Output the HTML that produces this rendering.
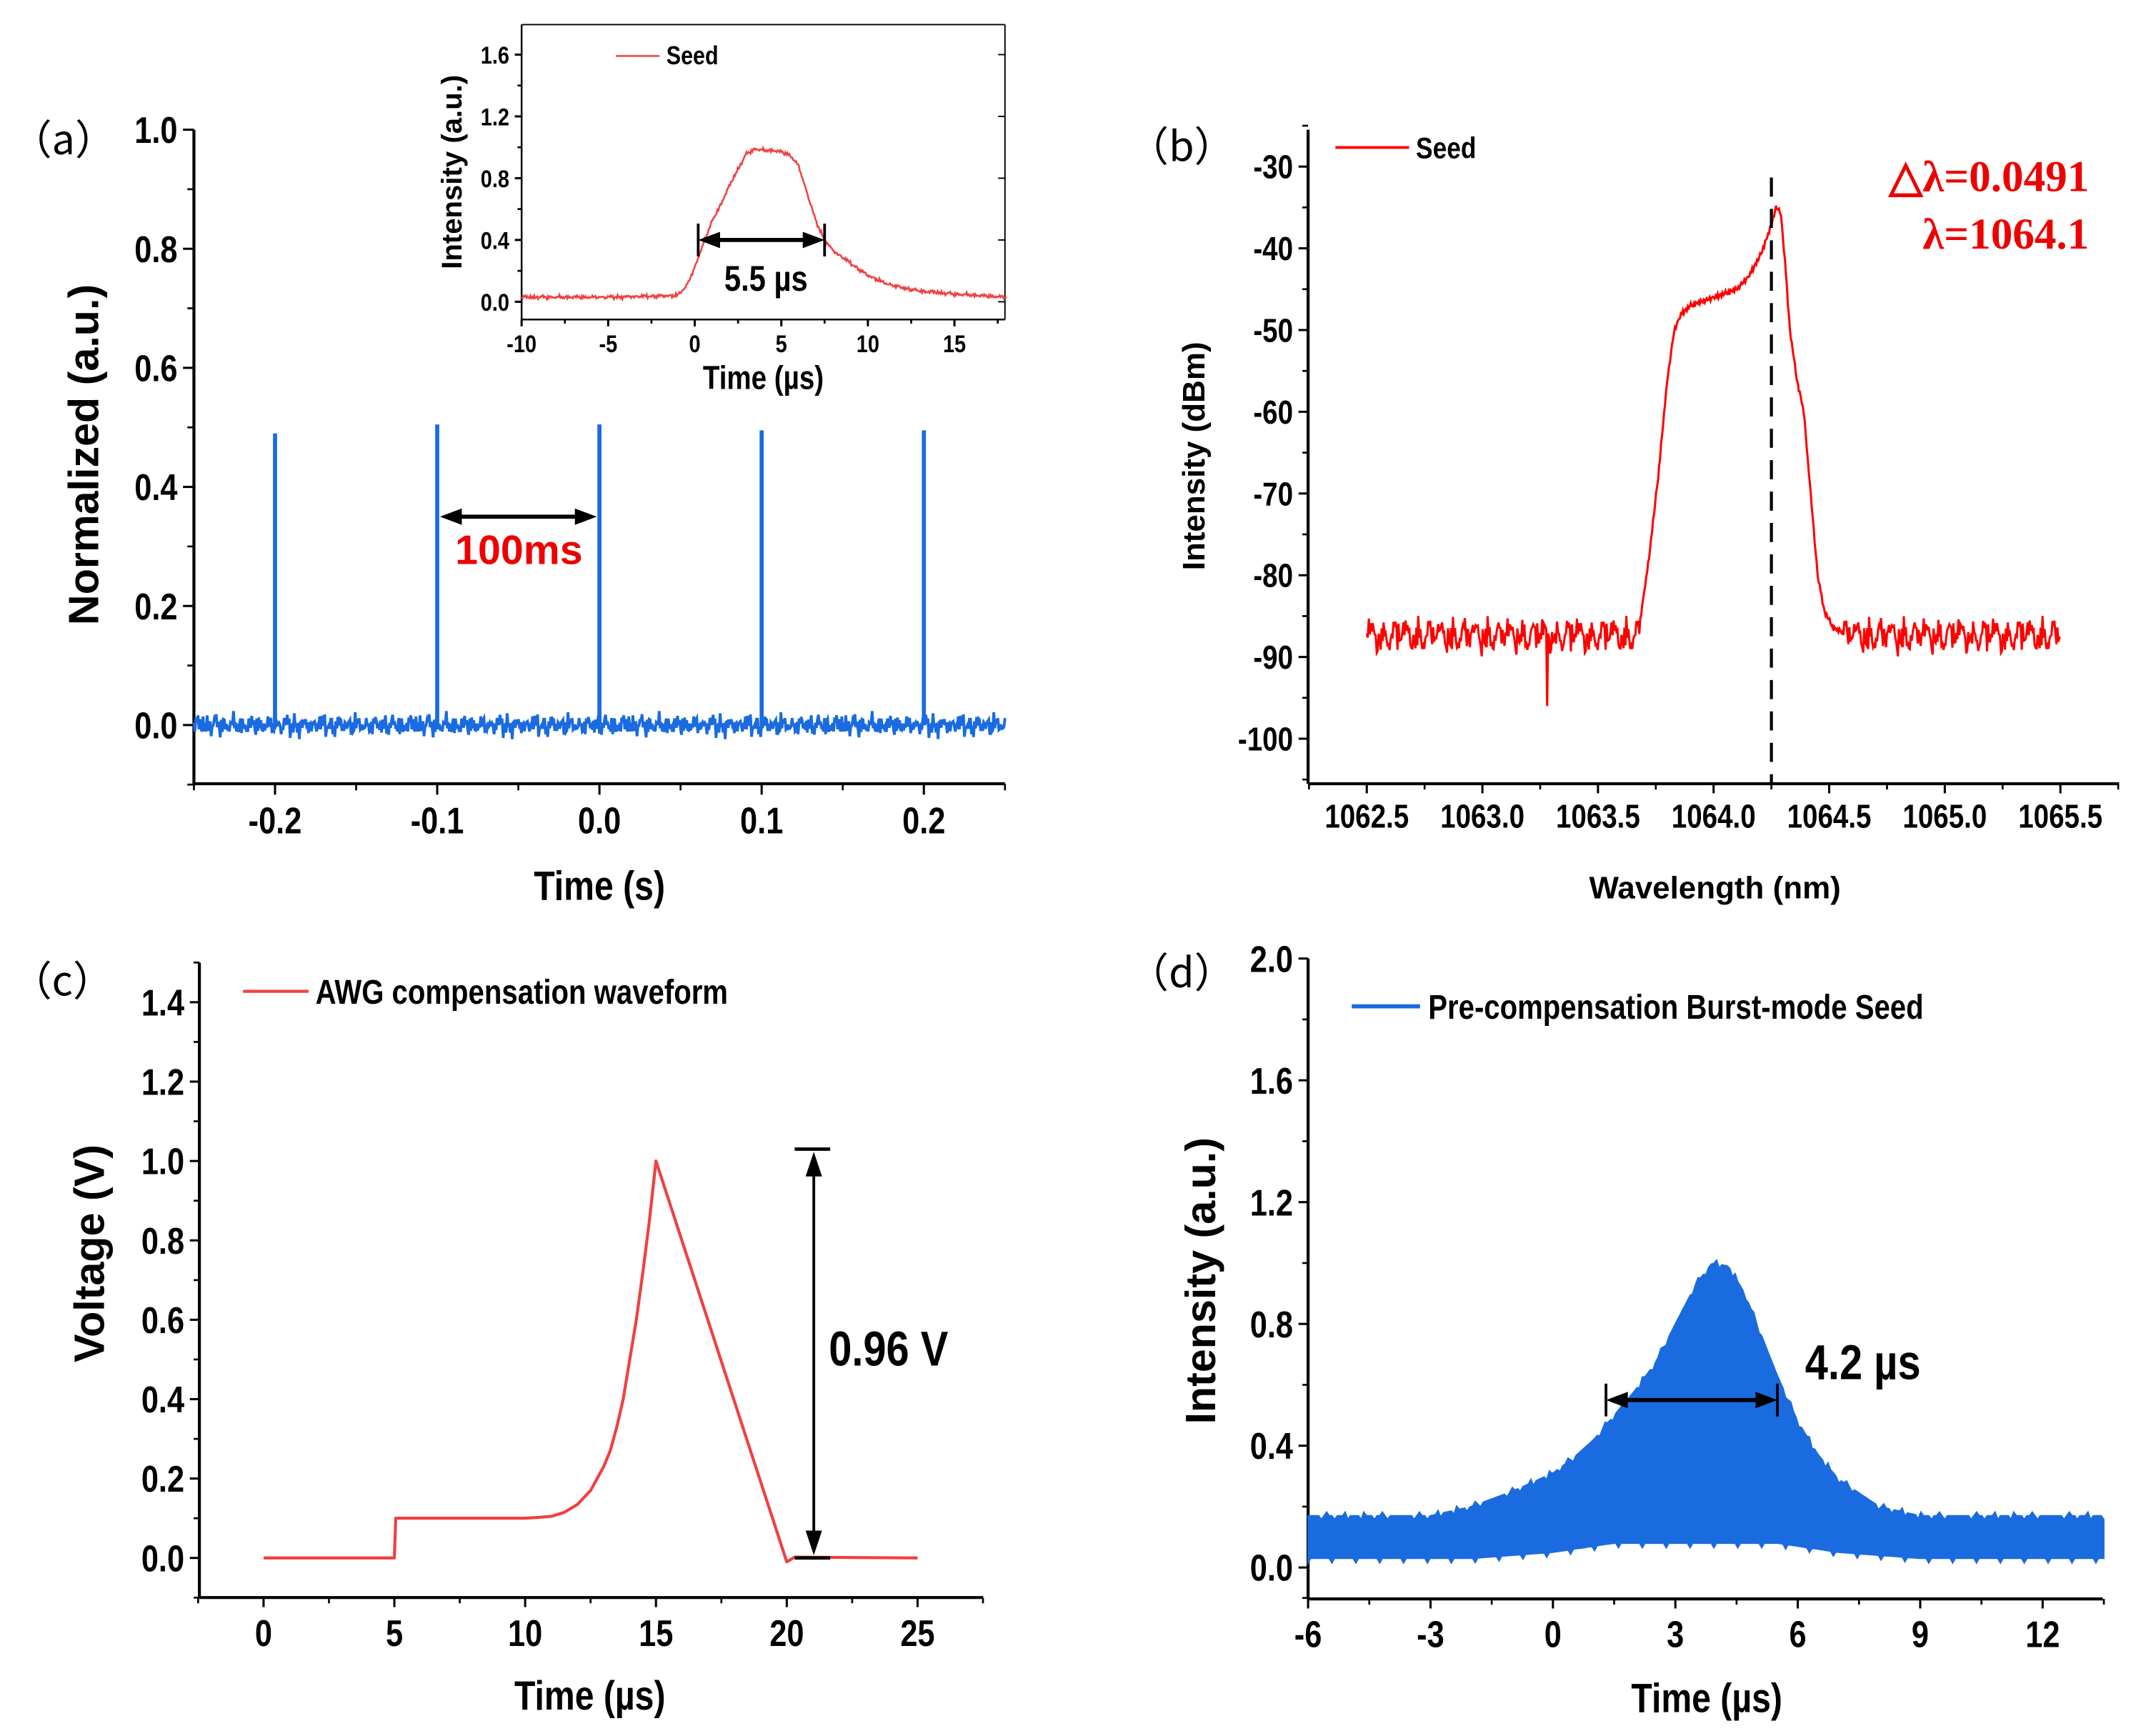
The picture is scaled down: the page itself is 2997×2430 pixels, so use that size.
<!DOCTYPE html>
<html><head><meta charset="utf-8"><style>
html,body{margin:0;padding:0;background:#fff}
svg{display:block}
.n{font-family:"Liberation Sans",sans-serif;font-weight:bold}
.w{font-family:"Liberation Sans",sans-serif;font-weight:bold}
</style></head><body>
<svg id="fig" xmlns="http://www.w3.org/2000/svg" width="2997" height="2430" viewBox="0 0 1568 1271.4">
<rect width="1600" height="1300" fill="#fff"/>
</svg>
<script>
// ---- data ----
const aSpikeT=[-0.2,-0.1,0.0,0.1,0.2];
const aSpikeV=[0.49,0.505,0.505,0.495,0.495];
const noiseA=[0.004,-0.008,0.012,-0.003,0.006,-0.012,0.009,0.001,-0.006,0.014,-0.01,0.003,-0.004,0.008,-0.015,0.005,0.011,-0.007,0.002,-0.011,0.007,-0.002,0.013,-0.009,0.0,0.006,-0.013,0.01,-0.005,0.003];
const seedT=[-10,-5,-1,-0.5,0,0.5,1,1.5,2,2.5,3,3.5,4,4.5,5,5.5,6,6.5,7,7.5,8,9,10,11,12,13,15,18];
const seedV=[0.03,0.03,0.04,0.1,0.22,0.38,0.52,0.63,0.75,0.86,0.96,0.99,0.98,0.98,0.97,0.95,0.88,0.7,0.52,0.4,0.33,0.25,0.17,0.12,0.09,0.07,0.05,0.03];
const specW=[1063.68,1063.72,1063.76,1063.8,1063.83,1063.86,1063.9,1063.95,1064.0,1064.05,1064.1,1064.15,1064.2,1064.24,1064.27,1064.29,1064.31,1064.33,1064.36,1064.39,1064.42,1064.45,1064.48,1064.52,1064.56];
const specV=[-86,-78,-68,-56,-50,-48,-47,-46.5,-46,-45.5,-45,-43.5,-41,-38,-35,-35.5,-42,-50,-56,-60,-70,-80,-84.5,-86.5,-87];
const noiseB=[0,-2,1.5,-1,2.5,-3,0.5,1,-2.5,2,-1.5,0,3,-1,-2,1,-3.5,2,0.5,-1,1.5,-2,2.5,0,-1.5,1,-2.5,0.5,2,-1,-0.5,1.8,-2.8,0.3,1.2];
const awgT=[0,5,5.05,10,10.5,11,11.5,12,12.5,13,13.25,13.5,13.75,14,14.25,14.5,14.75,15,20,20.3,25];
const awgV=[0,0,0.1,0.1,0.102,0.105,0.115,0.135,0.17,0.23,0.27,0.33,0.4,0.5,0.6,0.72,0.85,1.0,-0.01,0.002,0];
const dT=[-6,-3,-2,-1,0,0.5,1,1.5,2,2.5,3,3.5,3.9,4.3,4.7,5,5.5,6,6.5,7,8,9,12,13.5];
const dUp=[0.17,0.17,0.2,0.25,0.31,0.36,0.42,0.5,0.58,0.67,0.8,0.93,1.0,0.99,0.9,0.8,0.63,0.48,0.37,0.29,0.2,0.17,0.17,0.17];
const dLo=[0.03,0.03,0.03,0.04,0.05,0.06,0.07,0.08,0.08,0.08,0.08,0.08,0.08,0.08,0.08,0.08,0.08,0.07,0.06,0.05,0.04,0.03,0.03,0.03];
const aTicks=[-0.2,-0.1,0.0,0.1,0.2], aYTicks=[0,0.2,0.4,0.6,0.8,1.0];
const iTicks=[-10,-5,0,5,10,15], iYTicks=[0,0.4,0.8,1.2,1.6];
const bTicks=[1062.5,1063.0,1063.5,1064.0,1064.5,1065.0,1065.5], bYTicks=[-30,-40,-50,-60,-70,-80,-90,-100];
const cTicks=[0,5,10,15,20,25], cYTicks=[0,0.2,0.4,0.6,0.8,1.0,1.2,1.4];
const dTicks=[-6,-3,0,3,6,9,12], dYTicks=[0,0.4,0.8,1.2,1.6,2.0];

const NS='http://www.w3.org/2000/svg', svg=document.getElementById('fig');
function el(tag,attrs,parent,text){const e=document.createElementNS(NS,tag);for(const k in attrs)e.setAttribute(k,attrs[k]);if(text!==undefined)e.textContent=text;(parent||svg).appendChild(e);return e;}
function lin(d0,d1,r0,r1){return v=>r0+(v-d0)*(r1-r0)/(d1-d0);}
function interp(xs,ys,x){if(x<=xs[0])return ys[0];for(let i=1;i<xs.length;i++){if(x<=xs[i]){const t=(x-xs[i-1])/(xs[i]-xs[i-1]);return ys[i-1]+t*(ys[i]-ys[i-1]);}}return ys[ys.length-1];}
function nz(i){return noiseA[i%noiseA.length]+noiseB[(i*3)%noiseB.length]*0.004;}
function ntext(g,x,y,fs,anchor,str,fill){return el('text',{transform:`translate(${x},${y}) scale(0.84,1)`,'text-anchor':anchor,'font-size':fs,class:'n',fill:fill||'#000'},g,str);}

function axes(g,o){
  el('line',{x1:o.x0,y1:o.y0,x2:o.x0,y2:o.y1,stroke:'#000','stroke-width':o.lw||2.2},g);
  el('line',{x1:o.x0,y1:o.y0,x2:o.x1,y2:o.y0,stroke:'#000','stroke-width':o.lw||2.2},g);
  if(o.box){el('line',{x1:o.x1,y1:o.y0,x2:o.x1,y2:o.y1,stroke:'#000','stroke-width':1},g);el('line',{x1:o.x0,y1:o.y1,x2:o.x1,y2:o.y1,stroke:'#000','stroke-width':1},g);}
  const L=o.tl||7;
  o.xt.forEach(v=>{const x=o.sx(v);
    el('line',{x1:x,y1:o.y0,x2:x,y2:o.y0+L,stroke:'#000','stroke-width':1.6},g);
    const t=ntext(g,x,o.y0+L+o.fs*1.05,o.fs,'middle',o.xfmt(v));
    
    
  });
  if(o.extraX)o.extraX.forEach(v=>{const x=o.sx(v);el('line',{x1:x,y1:o.y0,x2:x,y2:o.y0+L*0.6,stroke:'#000','stroke-width':1.4},g);});
  o.yt.forEach(v=>{const y=o.sy(v);
    el('line',{x1:o.x0,y1:y,x2:o.x0-L,y2:y,stroke:'#000','stroke-width':1.6},g);
    if(o.box)el('line',{x1:o.x1,y1:y,x2:o.x1-L,y2:y,stroke:'#000','stroke-width':1},g);
    const t=ntext(g,o.x0-L-4,y+o.fs*0.36,o.fs,'end',o.yfmt(v));
    
    
  });
  if(o.minorY)o.minorY.forEach(v=>{const y=o.sy(v);el('line',{x1:o.x0,y1:y,x2:o.x0-L*0.6,y2:y,stroke:'#000','stroke-width':1.4},g);});
}
function arrowH(g,x1,x2,y,h){
  el('line',{x1:x1+10,y1:y,x2:x2-10,y2:y,stroke:'#000','stroke-width':3},g);
  el('polygon',{points:`${x1},${y} ${x1+16},${y-6} ${x1+16},${y+6}`,fill:'#000'},g);
  el('polygon',{points:`${x2},${y} ${x2-16},${y-6} ${x2-16},${y+6}`,fill:'#000'},g);
  if(h){el('line',{x1:x1,y1:y-h,x2:x1,y2:y+h,stroke:'#000','stroke-width':2},g);el('line',{x1:x2,y1:y-h,x2:x2,y2:y+h,stroke:'#000','stroke-width':2},g);}
}
function panelLabel(x,y,s,name){const t=el('text',{x:x,y:y,'font-size':30,'font-family':'"Noto Sans CJK SC","WenQuanYi Zen Hei",sans-serif'},svg,s);}

// ---------- Panel (a) ----------
(function(){
  const g=el('g',{});
  const sx=lin(-0.25,0.25,142,736), sy=lin(0,1.0,531,95);
  axes(g,{x0:142,x1:736,y0:574,y1:95,sx,sy,xt:aTicks,yt:aYTicks,xfmt:v=>v.toFixed(1),yfmt:v=>v.toFixed(1),fs:27,minorY:[0.1,0.3,0.5,0.7,0.9,-0.1],extraX:[-0.25,-0.15,-0.05,0.05,0.15,0.25],tl:8});
  let d='';const N=800;
  for(let i=0;i<=N;i++){const t=-0.25+0.5*i/N;const v=nz(i)*0.9;d+=(i?'L':'M')+sx(t).toFixed(1)+','+sy(v).toFixed(1);}
  const p=el('path',{d,fill:'none',stroke:'#1a6be0','stroke-width':2},g);
  aSpikeT.forEach((t,i)=>{const s=el('line',{x1:sx(t),y1:sy(0),x2:sx(t),y2:sy(aSpikeV[i]),stroke:'#1a6be0','stroke-width':3},g);});
  arrowH(g,sx(-0.1)+2,sx(0)-2,sy(0.35),0);
  const t=el('text',{x:380,y:413,'text-anchor':'middle','font-size':30,fill:'#e00',class:'w'},g,'100ms');
  const yt=el('text',{transform:'translate(72,333) rotate(-90)','text-anchor':'middle','font-size':31,class:'w'},g,'Normalized (a.u.)');
  const xt=ntext(g,439,659,30,'middle','Time (s)');
  // inset
  const gi=el('g',{});
  const ix=lin(-10,15,382,699), iy=lin(0,1.6,221,40);
  el('rect',{x:382,y:18,width:354,height:216,fill:'#fff'},gi);
  axes(gi,{x0:382,x1:736,y0:234,y1:18,sx:ix,sy:iy,xt:iTicks,yt:iYTicks,xfmt:v=>String(v),yfmt:v=>v.toFixed(1),fs:18,minorY:[0.2,0.6,1.0,1.4],box:true,lw:1.3,tl:5,extraX:[-7.5,-2.5,2.5,7.5,12.5,17.5]});
  let di='';const M=500;
  for(let i=0;i<=M;i++){const t=-10+28*i/M;const v=interp(seedT,seedV,t)+nz(i)*0.6;di+=(i?'L':'M')+ix(t).toFixed(1)+','+iy(v).toFixed(1);}
  const pi=el('path',{d:di,fill:'none',stroke:'#f04040','stroke-width':1.3},gi);
  el('line',{x1:451,y1:41,x2:483,y2:41,stroke:'#f04040','stroke-width':1.3},gi);
  const lt=ntext(gi,488,47,19,'start','Seed');
  arrowH(gi,ix(0.2),ix(7.5),iy(0.4),12);
  const at=ntext(gi,561,213,26,'middle','5.5 µs');
  const iyt=el('text',{transform:'translate(338,126) rotate(-90)','text-anchor':'middle','font-size':21,class:'w'},gi,'Intensity (a.u.)');
  const ixt=ntext(gi,559,285,24,'middle','Time (µs)');
})();
panelLabel(8,113,'（a）','panel-a-label');

// ---------- Panel (b) ----------
(function(){
  const g=el('g',{});
  const sx=lin(1062.5,1065.5,1001,1509), sy=lin(-30,-100,122,541);
  axes(g,{x0:958,x1:1552,y0:574,y1:95,sx,sy,xt:bTicks,yt:bYTicks,xfmt:v=>v.toFixed(1),yfmt:v=>String(v),fs:24,minorY:[-25,-35,-45,-55,-65,-75,-85,-95,-105],extraX:[1062.25,1062.75,1063.25,1063.75,1064.25,1064.75,1065.25,1065.75],tl:7});
  let d='';const N=700;
  for(let i=0;i<=N;i++){const w=1062.5+3*i/N;let v;
    const nb=noiseB[(i*11)%noiseB.length]*0.6+noiseA[i%noiseA.length]*40;
    if(w<specW[0]||w>specW[specW.length-1]){v=-87.3+nb;}else{v=interp(specW,specV,w)+noiseB[i%noiseB.length]*0.1;}
    if(Math.abs(w-1063.28)<0.003)v=-96;
    d+=(i?'L':'M')+sx(w).toFixed(1)+','+sy(v).toFixed(1);}
  const p=el('path',{d,fill:'none',stroke:'#ff0000','stroke-width':1.6},g);
  const dl=el('line',{x1:sx(1064.25),y1:130,x2:sx(1064.25),y2:574,stroke:'#000','stroke-width':2.2,'stroke-dasharray':'14,9'},g);
  el('line',{x1:978,y1:108,x2:1032,y2:108,stroke:'#ff0000','stroke-width':2},g);
  const lt=ntext(g,1037,116,22,'start','Seed');
  const a1=el('text',{x:1530,y:140,'text-anchor':'end','font-size':32,fill:'#e00','font-weight':'bold','font-family':'"Liberation Serif",serif'},g,'△λ=0.0491');
  const a2=el('text',{x:1530,y:182,'text-anchor':'end','font-size':32,fill:'#e00','font-weight':'bold','font-family':'"Liberation Serif",serif'},g,'λ=1064.1');
  const yt=el('text',{transform:'translate(882,334) rotate(-90)','text-anchor':'middle','font-size':23,class:'w'},g,'Intensity (dBm)');
  const xt=el('text',{x:1256,y:658,'text-anchor':'middle','font-size':23,class:'w'},g,'Wavelength (nm)');
})();
panelLabel(826,118,'（b）','panel-b-label');

// ---------- Panel (c) ----------
(function(){
  const g=el('g',{});
  const sx=lin(0,25,193,672), sy=lin(0,1.4,1141,734);
  axes(g,{x0:146,x1:720,y0:1170,y1:705,sx,sy,xt:cTicks,yt:cYTicks,xfmt:v=>String(v),yfmt:v=>v.toFixed(1),fs:27,minorY:[0.1,0.3,0.5,0.7,0.9,1.1,1.3,1.5,-0.1],extraX:[-2.5,2.5,7.5,12.5,17.5,22.5,27.5],tl:7});
  let d='';awgT.forEach((t,i)=>{d+=(i?'L':'M')+sx(t).toFixed(1)+','+sy(awgV[i]).toFixed(1);});
  const p=el('path',{d,fill:'none',stroke:'#f04040','stroke-width':2.2,'stroke-linejoin':'round'},g);
  const x=596,yt0=sy(1.03),yb=sy(0);
  el('line',{x1:x,y1:yt0+14,x2:x,y2:yb-14,stroke:'#000','stroke-width':2},g);
  el('polygon',{points:`${x},${yt0+2} ${x-6},${yt0+20} ${x+6},${yt0+20}`,fill:'#000'},g);
  el('polygon',{points:`${x},${yb-2} ${x-6},${yb-20} ${x+6},${yb-20}`,fill:'#000'},g);
  el('line',{x1:582,y1:yt0,x2:608,y2:yt0,stroke:'#000','stroke-width':2.5},g);
  el('line',{x1:582,y1:yb,x2:608,y2:yb,stroke:'#000','stroke-width':2.5},g);
  const at=ntext(g,607,1000,36,'start','0.96 V');
  el('line',{x1:178,y1:726,x2:226,y2:726,stroke:'#f04040','stroke-width':2.2},g);
  const lt=ntext(g,231,735,25,'start','AWG compensation waveform');
  const yt=el('text',{transform:'translate(76,918) rotate(-90)','text-anchor':'middle','font-size':31,class:'w'},g,'Voltage (V)');
  const xt=ntext(g,432,1252,30,'middle','Time (µs)');
})();
panelLabel(8,729,'（c）','panel-c-label');

// ---------- Panel (d) ----------
(function(){
  const g=el('g',{});
  const sx=lin(-6,12,958,1496), sy=lin(0,2.0,1148,702);
  axes(g,{x0:958,x1:1540,y0:1171,y1:702,sx,sy,xt:dTicks,yt:dYTicks,xfmt:v=>String(v),yfmt:v=>v.toFixed(1),fs:27,minorY:[0.2,0.6,1.0,1.4,1.8,-0.1],extraX:[-4.5,-1.5,1.5,4.5,7.5,10.5,13.5],tl:7});
  let up='',lo='';const N=300;
  for(let i=0;i<=N;i++){const t=-6+19.5*i/N;const u=interp(dT,dUp,t)+(i%7===0?0.012:0)-(i%5===0?0.012:0);up+=(i?'L':'M')+sx(t).toFixed(1)+','+sy(u).toFixed(1);}
  for(let i=N;i>=0;i--){const t=-6+19.5*i/N;const l=interp(dT,dLo,t)-(i%9===0?0.015:0);lo+='L'+sx(t).toFixed(1)+','+sy(l).toFixed(1);}
  const p=el('path',{d:up+lo+'Z',fill:'#1a6be0',stroke:'#1a6be0','stroke-width':1},g);
  arrowH(g,sx(1.3),sx(5.5),sy(0.55),12);
  const at=ntext(g,1322,1010,36,'start','4.2 µs');
  el('line',{x1:990,y1:737,x2:1040,y2:737,stroke:'#1a6be0','stroke-width':3},g);
  const lt=ntext(g,1046,746,25,'start','Pre-compensation Burst-mode Seed');
  const yt=el('text',{transform:'translate(890,938) rotate(-90)','text-anchor':'middle','font-size':31,class:'w'},g,'Intensity (a.u.)');
  const xt=ntext(g,1250,1254,30,'middle','Time (µs)');
})();
panelLabel(826,723,'（d）','panel-d-label');
</script>
</body></html>
